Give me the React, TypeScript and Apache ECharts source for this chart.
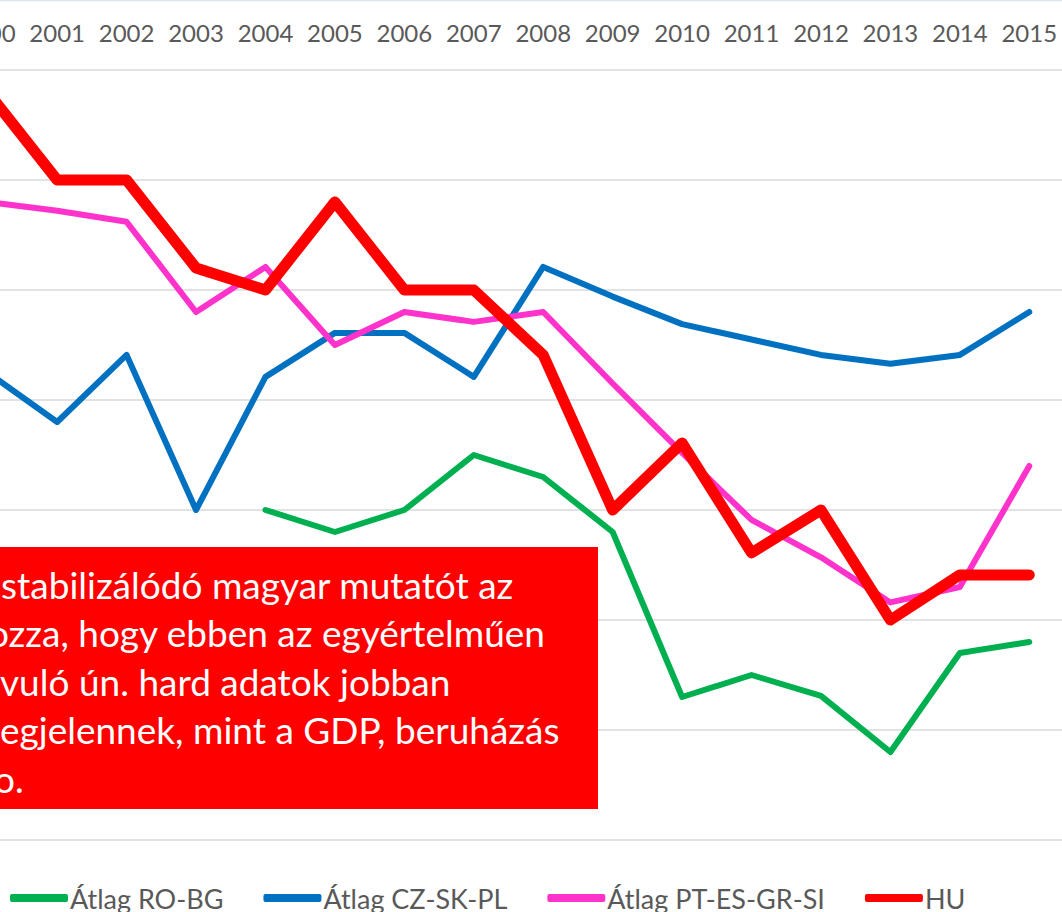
import React, { useEffect, useRef } from "react";
import * as echarts from "echarts";

const years = ["2000","2001","2002","2003","2004","2005","2006","2007","2008","2009","2010","2011","2012","2013","2014","2015"];
const roBg = [null, null, null, null, 3.0, 2.8, 3.0, 3.5, 3.3, 2.8, 1.3, 1.5, 1.31, 0.8, 1.7, 1.8];
const czSkPl = [4.25, 3.8, 4.41, 3.0, 4.21, 4.61, 4.61, 4.21, 5.21, 4.94, 4.69, 4.55, 4.41, 4.33, 4.41, 4.8];
const ptEsGrSi = [5.8, 5.72, 5.62, 4.8, 5.21, 4.5, 4.8, 4.71, 4.8, 4.15, 3.52, 2.91, 2.57, 2.16, 2.3, 3.4];
const hu = [6.8, 6.0, 6.0, 5.2, 5.0, 5.8, 5.0, 5.0, 4.41, 3.0, 3.61, 2.61, 3.0, 2.0, 2.41, 2.41];
const seriesNames = ["Átlag RO-BG", "Átlag CZ-SK-PL", "Átlag PT-ES-GR-SI", "HU"];
const seriesColors = ["#00B050", "#0070C0", "#FF33CC", "#FF0000"];
const noteLines = [
  "stabilizálódó magyar mutatót az",
  "ozza, hogy ebben az egyértelműen",
  "vuló ún. hard adatok jobban",
  "egjelennek, mint a GDP, beruházás",
  "o.",
];
const noteOffsets = [1, -12, 0, 0, -6];

// the drawing surface is shifted left so that the 2000 column is partly cut, as in the reference
const SHIFT = 47;

export default function App() {
  const ref = useRef<HTMLDivElement>(null);
  useEffect(() => {
    if (!ref.current) return;
    const chart = echarts.init(ref.current, null, { renderer: "svg" });
    const values = [roBg, czSkPl, ptEsGrSi, hu];
    const font = "Lato, 'Open Sans', sans-serif";
    chart.setOption({
      animation: false,
      backgroundColor: "#ffffff",
      grid: { left: 0, right: 0, top: 70, bottom: 72, containLabel: false },
      xAxis: {
        type: "category",
        data: years,
        position: "top",
        boundaryGap: true,
        axisLine: { show: false },
        axisTick: { show: false },
        axisLabel: {
          interval: 0,
          color: "#595959",
          fontFamily: font,
          fontSize: 24,
          margin: 26,
        },
      },
      yAxis: {
        type: "value",
        min: 0,
        max: 7,
        interval: 1,
        axisLabel: { show: false },
        axisLine: { show: false },
        axisTick: { show: false },
        splitLine: { lineStyle: { color: "#d9d9d9", width: 1.5 } },
      },
      legend: {
        left: SHIFT + 5,
        top: 878,
        itemWidth: 58,
        itemHeight: 8,
        itemGap: 40,
        icon: "roundRect",
        textStyle: { fontFamily: font, fontSize: 27, lineHeight: 30, color: "#595959", padding: [0, 0, 0, -3] },
        data: seriesNames,
      },
      series: values.map((d, i) => ({
        name: seriesNames[i],
        type: "line",
        data: d,
        symbol: "none",
        smooth: false,
        connectNulls: false,
        color: seriesColors[i],
        lineStyle: {
          color: seriesColors[i],
          width: i === 3 ? 11 : 6,
          cap: "round",
          join: "round",
        },
        z: 2 + i,
      })),
      graphic: [
        {
          type: "line",
          shape: { x1: SHIFT, y1: 0.5, x2: SHIFT + 1062, y2: 0.5 },
          style: { stroke: "#dce4ef", lineWidth: 1.5 },
        },
        {
          type: "rect",
          shape: { x: 0, y: 547, width: SHIFT + 598, height: 262 },
          style: { fill: "#ff0000" },
          z: 100,
        },
        ...noteLines.map((t, i) => ({
          type: "text",
          x: SHIFT + noteOffsets[i],
          y: 584 + i * 48.5,
          z: 101,
          style: {
            text: t,
            fill: "#ffffff",
            fontFamily: font,
            fontSize: 37,
            verticalAlign: "middle",
          },
        })),
      ],
    });
    return () => chart.dispose();
  }, []);
  return (
    <div
      ref={ref}
      style={{ position: "fixed", left: -SHIFT, top: 0, width: 1062 + SHIFT + 2, height: 912, background: "#fff" }}
    />
  );
}
